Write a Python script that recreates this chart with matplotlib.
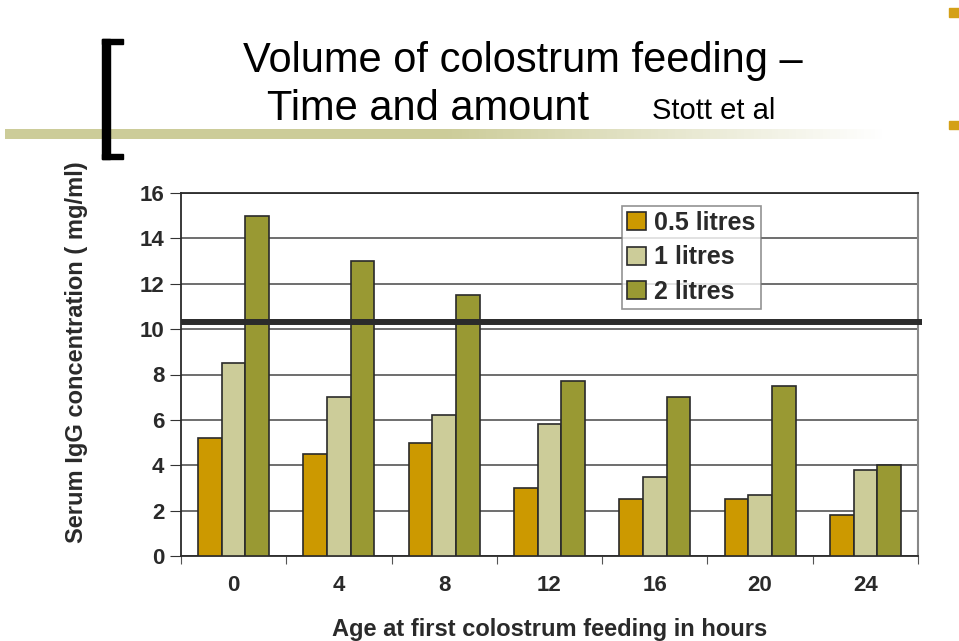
import matplotlib.pyplot as plt
import numpy as np
from matplotlib.colors import LinearSegmentedColormap
from matplotlib.patches import Rectangle

hours = ["0", "4", "8", "12", "16", "20", "24"]
series = ["0.5 litres", "1 litres", "2 litres"]
half_litre = [5.2, 4.5, 5.0, 3.0, 2.5, 2.5, 1.8]
one_litre = [8.5, 7.0, 6.2, 5.8, 3.5, 2.7, 3.8]
two_litre = [15.0, 13.0, 11.5, 7.7, 7.0, 7.5, 4.0]
threshold = 10.33
colors = ["#CC9900", "#CCCC99", "#999933"]
ink = "#2a2a2a"

W, H = 959, 641
plt.rcParams["font.family"] = ["Liberation Sans", "DejaVu Sans"]
fig = plt.figure(figsize=(W / 100, H / 100), dpi=100)


def px_rect(x0, y0, x1, y1, **kw):
    # rectangle given in pixels from the top-left corner
    fig.patches.append(Rectangle((x0 / W, 1 - y1 / H), (x1 - x0) / W, (y1 - y0) / H,
                                 transform=fig.transFigure, **kw))


# slide decorations
gax = fig.add_axes([5 / W, 1 - 139 / H, 880 / W, 10 / H])
cmap = LinearSegmentedColormap.from_list("g", ["#CCCC99", "#CCCC99", "#ffffff"])
gax.imshow(np.linspace(0, 1, 256)[None, :], aspect="auto", cmap=cmap, extent=[0, 1, 0, 1])
gax.axis("off")

px_rect(102, 39, 110, 159, color="black")
px_rect(102, 39, 123, 44, color="black")
px_rect(102, 154, 123, 159, color="black")
px_rect(949, 8, 959, 17, color="#D4A017")
px_rect(949, 121, 959, 129, color="#D4A017")

fig.text(523 / W, 1 - 72 / H, "Volume of colostrum feeding \u2013",
         fontsize=30, ha="center", va="baseline")
fig.text(428 / W, 1 - 120 / H, "Time and amount",
         fontsize=30, ha="center", va="baseline")
fig.text(714 / W, 1 - 119 / H, "Stott et al",
         fontsize=21, ha="center", va="baseline")

# chart
ax = fig.add_axes([181 / W, 1 - 556 / H, (918 - 181) / W, (556 - 193) / H])
x = np.arange(len(hours))
bw = 0.225
for i, (vals, lab) in enumerate(zip([half_litre, one_litre, two_litre], series)):
    ax.bar(x + (i - 1) * bw, vals, bw, color=colors[i], edgecolor=ink,
           linewidth=1.2, label=lab, zorder=3)

ax.set_xlim(-0.5, len(hours) - 0.5)
ax.set_ylim(0, 16)
ax.set_yticks(np.arange(0, 17, 2))
ax.yaxis.grid(True, color="#555555", linewidth=1.2, zorder=0)
ax.set_axisbelow(True)
ax.set_xticks(np.arange(-0.5, len(hours), 1))
ax.set_xticklabels([])
ax.set_xticks(x, minor=True)
ax.set_xticklabels(hours, minor=True)
ax.tick_params(axis="x", which="major", length=6, color="#555555")
ax.tick_params(axis="x", which="minor", length=0, pad=14)
ax.tick_params(axis="y", length=8, color="#333333", pad=4)
for lbl in ax.get_xticklabels(minor=True) + ax.get_yticklabels():
    lbl.set_fontsize(16)
    lbl.set_fontweight("bold")
    lbl.set_color(ink)
for side in ["left", "bottom", "top"]:
    ax.spines[side].set_color(ink)
    ax.spines[side].set_linewidth(1.3)
ax.spines["right"].set_color("#888888")
ax.spines["right"].set_linewidth(1.5)

ax.plot([0, 1.006], [threshold, threshold], color="#2b2b2b", linewidth=4.3,
        transform=ax.get_yaxis_transform(), clip_on=False, zorder=5,
        solid_capstyle="butt")

fig.text(550 / W, 1 - 636 / H, "Age at first colostrum feeding in hours", fontsize=17,
         fontweight="bold", color=ink, ha="center", va="baseline")
fig.text(77 / W, 1 - 352 / H, "Serum IgG concentration ( mg/ml)", rotation=90,
         fontsize=17, fontweight="bold", color=ink, ha="center", va="center")

leg = ax.legend(loc="upper left",
                bbox_to_anchor=((622 - 181) / (918 - 181), 1 - (206 - 193) / 363),
                prop={"weight": "bold", "size": 18}, frameon=True, fancybox=False,
                handlelength=0.75, handleheight=0.75, handletextpad=0.35,
                labelspacing=0.42, borderpad=0.2, borderaxespad=0)
leg.get_frame().set_edgecolor("#777777")
leg.get_frame().set_linewidth(1.2)
leg.set_zorder(6)
for t in leg.get_texts():
    t.set_color(ink)

fig.savefig("out.png", dpi=100)
